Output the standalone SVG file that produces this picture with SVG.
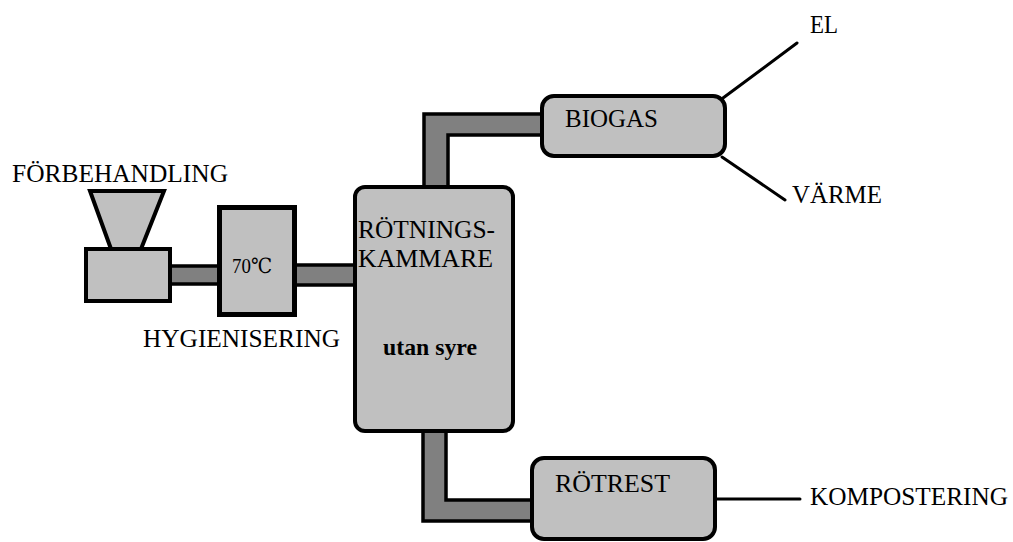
<svg xmlns="http://www.w3.org/2000/svg" width="1013" height="542" viewBox="0 0 1013 542">
  <style>
    .box { fill: #c0c0c0; stroke: #000; stroke-width: 4; }
    .pipe { fill: #808080; stroke: #000; stroke-width: 3.5; stroke-linejoin: miter; }
    .line { fill: none; stroke: #000; stroke-width: 3; stroke-linecap: round; }
    text { font-family: 'Liberation Serif', 'DejaVu Serif', 'Times New Roman', Times, serif; font-size: 25px; fill: #000; }
    .bold { font-weight: bold; font-size: 23px; }
    .small { font-size: 21px; }
  </style>
  <rect width="1013" height="542" fill="#fff"/>

  <!-- pipes and output lines -->
  <g id="connectors">
    <rect class="pipe" x="168" y="266" width="53" height="18"/>
    <rect class="pipe" x="294" y="265" width="63" height="20"/>
    <polygon class="pipe" points="424,189 424,114 544,114 544,135 448,135 448,189"/>
    <polygon class="pipe" points="423,430 423,521 534,521 534,500 446,500 446,430"/>
    <line class="line" x1="723" y1="98" x2="797" y2="43"/>
    <line class="line" x1="722" y1="157" x2="785" y2="200"/>
    <line class="line" x1="715" y1="499" x2="800" y2="499"/>
  </g>

  <g id="forbehandling">
    <polygon class="box" points="90,191 164,191 141,249 111,249"/>
    <rect class="box" x="86" y="249" width="84" height="52"/>
    <text x="12" y="182" textLength="216" lengthAdjust="spacingAndGlyphs">FÖRBEHANDLING</text>
  </g>

  <g id="hygienisering">
    <rect class="box" x="219.5" y="207.5" width="75" height="107" style="stroke-width:5"/>
    <text class="small" x="232" y="273" textLength="40" lengthAdjust="spacingAndGlyphs">70℃</text>
    <text x="143" y="347" textLength="197" lengthAdjust="spacingAndGlyphs">HYGIENISERING</text>
  </g>

  <g id="rotningskammare">
    <rect class="box" x="355" y="187" width="158" height="244" rx="10"/>
    <text x="358" y="238" textLength="137" lengthAdjust="spacingAndGlyphs">RÖTNINGS-</text>
    <text x="358" y="267" textLength="135" lengthAdjust="spacingAndGlyphs">KAMMARE</text>
    <text class="bold" x="383" y="355" textLength="94" lengthAdjust="spacingAndGlyphs">utan syre</text>
  </g>

  <g id="biogas">
    <rect class="box" x="542" y="96" width="183" height="60" rx="12"/>
    <text x="565" y="127" textLength="93" lengthAdjust="spacingAndGlyphs">BIOGAS</text>
  </g>

  <g id="el">
    <text x="810" y="33" textLength="28" lengthAdjust="spacingAndGlyphs">EL</text>
  </g>

  <g id="varme">
    <text x="792" y="203" textLength="90" lengthAdjust="spacingAndGlyphs">VÄRME</text>
  </g>

  <g id="rotrest">
    <rect class="box" x="532" y="458" width="183" height="81" rx="12"/>
    <text x="555" y="492" textLength="115" lengthAdjust="spacingAndGlyphs">RÖTREST</text>
  </g>

  <g id="kompostering">
    <text x="810" y="505" textLength="198" lengthAdjust="spacingAndGlyphs">KOMPOSTERING</text>
  </g>
</svg>
